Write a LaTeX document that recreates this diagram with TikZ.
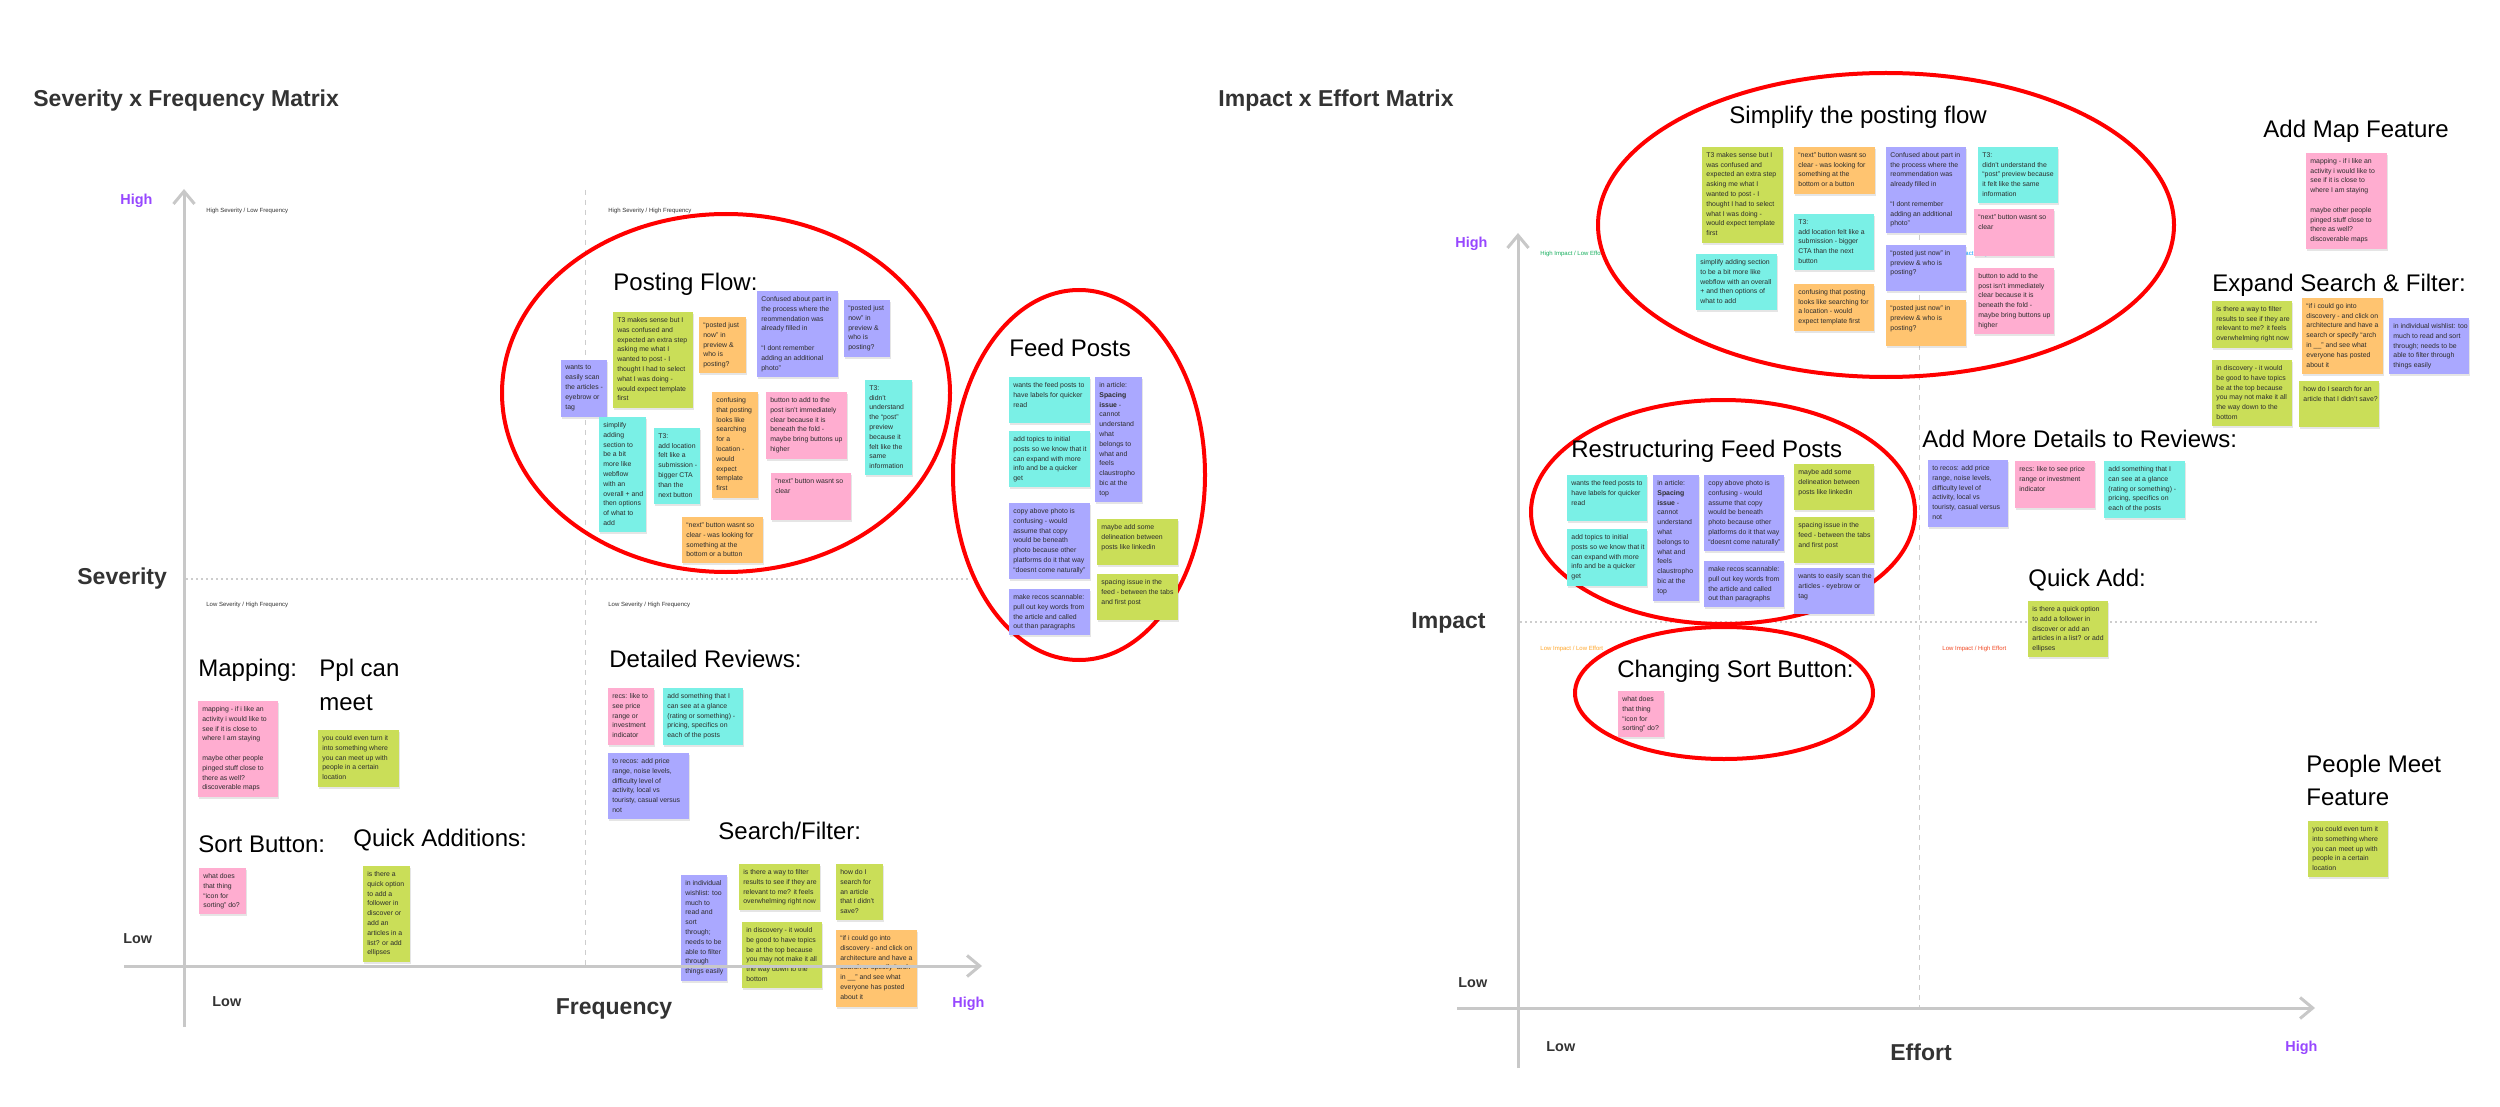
\documentclass[tikz,border=0pt]{standalone}
\usepackage{fontspec}
\setmainfont{Liberation Sans}
\usetikzlibrary{arrows.meta}
\definecolor{sgreen}{RGB}{202,222,88}
\definecolor{sorange}{RGB}{255,196,112}
\definecolor{spurple}{RGB}{170,168,255}
\definecolor{scyan}{RGB}{122,240,230}
\definecolor{spink}{RGB}{255,173,208}
\definecolor{notefg}{RGB}{45,45,45}
\definecolor{axgray}{RGB}{200,200,200}
\definecolor{divgray}{RGB}{205,205,205}
\definecolor{hipurple}{RGB}{151,71,255}
\definecolor{labgray}{RGB}{51,51,51}
\definecolor{qgreen}{RGB}{20,174,92}
\definecolor{qblue}{RGB}{13,153,255}
\definecolor{qorange}{RGB}{255,166,41}
\definecolor{qred}{RGB}{242,72,34}
\definecolor{ringred}{RGB}{255,0,0}
\tikzset{
 notetxt/.style={anchor=north west,inner sep=0pt,align=left,text=notefg,font=\fontsize{3.45}{4.9}\selectfont},
 noteshadow/.style={fill=black,opacity=0.10},
 heading/.style={anchor=base west,inner sep=0pt,text=black,font=\fontsize{12}{14}\selectfont},
 titlelab/.style={anchor=base west,inner sep=0pt,text=labgray,font=\bfseries\fontsize{11.5}{14}\selectfont},
 axlabel/.style={anchor=base west,inner sep=0pt,text=labgray,font=\bfseries\fontsize{11.5}{14}\selectfont},
 axlabelc/.style={axlabel,anchor=base},
 lowlab/.style={anchor=base west,inner sep=0pt,text=labgray,font=\bfseries\fontsize{7.2}{9}\selectfont},
 highlab/.style={lowlab,text=hipurple},
 quadlab/.style={anchor=base west,inner sep=0pt,font=\fontsize{3}{4}\selectfont},
 ring/.style={draw=ringred,line width=2pt},
 axisline/.style={draw=axgray,line width=1.5pt},
 axisarrow/.style={axisline,-{Straight Barb[length=6.3pt,width=10.5pt]}},
 hdiv/.style={draw=divgray,line width=0.7pt,dash pattern=on 1pt off 1.5pt},
 vdiv/.style={draw=divgray,line width=0.5pt,dash pattern=on 2.5pt off 2.5pt},
}
\newcommand\sticky[7]{%
 \fill[noteshadow] (#2+1,#3+2) rectangle (#4+1,#5+2);
 \fill[#6] (#2,#3) rectangle (#4,#5);
 \node[notetxt] (#1) at (#2+4,#3+5) {#7};}
\begin{document}
\begin{tikzpicture}[x=0.5pt,y=-0.5pt]
\fill[white] (0,0) rectangle (2500,1107);
\useasboundingbox (0,0) rectangle (2500,1107);

% ---------------- titles
\node[titlelab] (t1) at (33,107) {Severity x Frequency Matrix};
\node[titlelab] (t2) at (1218,107) {Impact x Effort Matrix};

% ---------------- dividers
\draw[vdiv] (585,190) -- (585,965);
\draw[hdiv] (186,579) -- (968,579);
\draw[vdiv] (1919,235) -- (1919,1007);
\draw[hdiv] (1520,622) -- (2320,622);

% quadrant labels
\node[quadlab,text=labgray] (q1) at (206,213) {High Severity / Low Frequency};
\node[quadlab,text=labgray] (q2) at (608,213) {High Severity / High Frequency};
\node[quadlab,text=labgray] (q3) at (206,606) {Low Severity / High Frequency};
\node[quadlab,text=labgray] (q4) at (608,606) {Low Severity / High Frequency};
\node[quadlab,text=qgreen] (q5) at (1540,256) {High Impact / Low Effort};
\node[quadlab,text=qblue] (q6) at (1941,256) {High Impact / High Effort};
\node[quadlab,text=qorange] (q7) at (1540,650) {Low Impact / Low Effort};
\node[quadlab,text=qred] (q8) at (1942,650) {Low Impact / High Effort};

% ---------------- rings
\draw[ring] (726,393) ellipse [x radius=224, y radius=179];
\draw[ring] (1079,475) ellipse [x radius=126, y radius=185];
\draw[ring] (1886,225) ellipse [x radius=288, y radius=152];
\draw[ring] (1723,512) ellipse [x radius=192, y radius=112];
\draw[ring] (1724,693) ellipse [x radius=149, y radius=66];

% ---------------- headings
\node[heading] (h1) at (613,291) {Posting Flow:};
\node[heading] (h2) at (1009,357) {Feed Posts};
\node[heading] (h3) at (198,676) {Mapping:};
\node[heading] (h4a) at (319,676) {Ppl can};
\node[heading] (h4b) at (319,710) {meet};
\node[heading] (h5) at (198,852) {Sort Button:};
\node[heading] (h6) at (353,846) {Quick Additions:};
\node[heading] (h7) at (609,667) {Detailed Reviews:};
\node[heading] (h8) at (718,839) {Search/Filter:};
\node[heading] (h9) at (1729,124) {Simplify the posting flow};
\node[heading] (h10) at (2263,138) {Add Map Feature};
\node[heading] (h11) at (2212,292) {Expand Search \& Filter:};
\node[heading] (h12) at (1571,457) {Restructuring Feed Posts};
\node[heading] (h13) at (1922,447) {Add More Details to Reviews:};
\node[heading] (h14) at (2028,586) {Quick Add:};
\node[heading] (h15) at (1617,677) {Changing Sort Button:};
\node[heading] (h16a) at (2306,772) {People Meet};
\node[heading] (h16b) at (2306,805) {Feature};

% ---------------- left: posting flow
\sticky{pfA}{561}{360}{607}{417}{spurple}{wants to\\easily scan\\the articles -\\eyebrow or\\tag}
\sticky{pfB}{613}{312}{693}{408}{sgreen}{T3 makes sense but I\\was confused and\\expected an extra step\\asking me what I\\wanted to post - I\\thought I had to select\\what I was doing -\\would expect template\\first}
\sticky{pfC}{699}{317}{746}{373}{sorange}{“posted just\\now” in\\preview \&\\who is\\posting?}
\sticky{pfD}{757}{291}{838}{377}{spurple}{Confused about part in\\the process where the\\reommendation was\\already filled in\\[4.9pt]“I dont remember\\adding an additional\\photo”}
\sticky{pfE}{844}{300}{890}{357}{spurple}{“posted just\\now” in\\preview \&\\who is\\posting?}
\sticky{pfF}{599}{417}{646}{532}{scyan}{simplify\\adding\\section to\\be a bit\\more like\\webflow\\with an\\overall + and\\then options\\of what to\\add}
\sticky{pfG}{654}{428}{700}{504}{scyan}{T3:\\add location\\felt like a\\submission -\\bigger CTA\\than the\\next button}
\sticky{pfH}{712}{392}{758}{498}{sorange}{confusing\\that posting\\looks like\\searching\\for a\\location -\\would\\expect\\template\\first}
\sticky{pfI}{766}{392}{847}{459}{spink}{button to add to the\\post isn't immediately\\clear because it is\\beneath the fold -\\maybe bring buttons up\\higher}
\sticky{pfJ}{865}{380}{912}{475}{scyan}{T3:\\didn't\\understand\\the “post”\\preview\\because it\\felt like the\\same\\information}
\sticky{pfK}{771}{473}{851}{520}{spink}{“next” button wasnt so\\clear}
\sticky{pfL}{682}{517}{763}{563}{sorange}{“next” button wasnt so\\clear - was looking for\\something at the\\bottom or a button}

% ---------------- left: feed posts
\sticky{fpA}{1009}{377}{1090}{423}{scyan}{wants the feed posts to\\have labels for quicker\\read}
\sticky{fpB}{1095}{377}{1142}{502}{spurple}{in article:\\\textbf{Spacing}\\\textbf{issue} -\\cannot\\understand\\what\\belongs to\\what and\\feels\\claustropho\\bic at the\\top}
\sticky{fpC}{1009}{431}{1090}{487}{scyan}{add topics to initial\\posts so we know that it\\can expand with more\\info and be a quicker\\get}
\sticky{fpD}{1009}{503}{1090}{579}{spurple}{copy above photo is\\confusing - would\\assume that copy\\would be beneath\\photo because other\\platforms do it that way\\“doesnt come naturally”}
\sticky{fpE}{1097}{519}{1178}{565}{sgreen}{maybe add some\\delineation between\\posts like linkedin}
\sticky{fpF}{1097}{574}{1178}{620}{sgreen}{spacing issue in the\\feed - between the tabs\\and first post}
\sticky{fpG}{1009}{589}{1090}{635}{spurple}{make recos scannable:\\pull out key words from\\the article and called\\out than paragraphs}

% ---------------- left: low severity / low frequency
\sticky{mpA}{198}{701}{278}{797}{spink}{mapping - if i like an\\activity i would like to\\see if it is close to\\where I am staying\\[4.9pt]maybe other people\\pinged stuff close to\\there as well?\\discoverable maps}
\sticky{mpB}{318}{730}{399}{787}{sgreen}{you could even turn it\\into something where\\you can meet up with\\people in a certain\\location}
\sticky{sbA}{199}{868}{246}{914}{spink}{what does\\that thing\\“icon for\\sorting” do?}
\sticky{qaA}{363}{866}{410}{962}{sgreen}{is there a\\quick option\\to add a\\follower in\\discover or\\add an\\articles in a\\list? or add\\ellipses}

% ---------------- left: low severity / high frequency
\sticky{drA}{608}{688}{654}{745}{spink}{recs: like to\\see price\\range or\\investment\\indicator}
\sticky{drB}{663}{688}{743}{745}{scyan}{add something that I\\can see at a glance\\(rating or something) -\\pricing, specifics on\\each of the posts}
\sticky{drC}{608}{753}{689}{819}{spurple}{to recos: add price\\range, noise levels,\\difficulty level of\\activity, local vs\\touristy, casual versus\\not}
\sticky{sfA}{681}{875}{727}{981}{spurple}{in individual\\wishlist: too\\much to\\read and\\sort\\through;\\needs to be\\able to filter\\through\\things easily}
\sticky{sfB}{739}{864}{820}{910}{sgreen}{is there a way to filter\\results to see if they are\\relevant to me? it feels\\overwhelming right now}
\sticky{sfC}{836}{864}{883}{920}{sgreen}{how do I\\search for\\an article\\that I didn't\\save?}
\sticky{sfD}{742}{922}{822}{988}{sgreen}{in discovery - it would\\be good to have topics\\be at the top because\\you may not make it all\\the way down to the\\bottom}
\sticky{sfE}{836}{930}{917}{1007}{sorange}{“if i could go into\\discovery - and click on\\architecture and have a\\search or specify “arch\\in \_\_” and see what\\everyone has posted\\about it}

% ---------------- right: simplify posting flow
\sticky{spA}{1702}{147}{1783}{243}{sgreen}{T3 makes sense but I\\was confused and\\expected an extra step\\asking me what I\\wanted to post - I\\thought I had to select\\what I was doing -\\would expect template\\first}
\sticky{spB}{1794}{147}{1875}{194}{sorange}{“next” button wasnt so\\clear - was looking for\\something at the\\bottom or a button}
\sticky{spC}{1886}{147}{1966}{233}{spurple}{Confused about part in\\the process where the\\reommendation was\\already filled in\\[4.9pt]“I dont remember\\adding an additional\\photo”}
\sticky{spD}{1978}{147}{2058}{203}{scyan}{T3:\\didn't understand the\\“post” preview because\\it felt like the same\\information}
\sticky{spE}{1696}{254}{1777}{310}{scyan}{simplify adding section\\to be a bit more like\\webflow with an overall\\+ and then options of\\what to add}
\sticky{spF}{1794}{214}{1874}{270}{scyan}{T3:\\add location felt like a\\submission - bigger\\CTA than the next\\button}
\sticky{spG}{1974}{209}{2054}{256}{spink}{“next” button wasnt so\\clear}
\sticky{spH}{1886}{245}{1966}{291}{spurple}{“posted just now” in\\preview \& who is\\posting?}
\sticky{spI}{1794}{284}{1874}{331}{sorange}{confusing that posting\\looks like searching for\\a location - would\\expect template first}
\sticky{spJ}{1974}{268}{2054}{334}{spink}{button to add to the\\post isn't immediately\\clear because it is\\beneath the fold -\\maybe bring buttons up\\higher}
\sticky{spK}{1886}{300}{1966}{346}{sorange}{“posted just now” in\\preview \& who is\\posting?}

% ---------------- right: map, search
\sticky{amA}{2306}{153}{2387}{249}{spink}{mapping - if i like an\\activity i would like to\\see if it is close to\\where I am staying\\[4.9pt]maybe other people\\pinged stuff close to\\there as well?\\discoverable maps}
\sticky{esA}{2212}{301}{2292}{348}{sgreen}{is there a way to filter\\results to see if they are\\relevant to me? it feels\\overwhelming right now}
\sticky{esB}{2302}{298}{2383}{374}{sorange}{“if i could go into\\discovery - and click on\\architecture and have a\\search or specify “arch\\in \_\_” and see what\\everyone has posted\\about it}
\sticky{esC}{2389}{318}{2469}{374}{spurple}{in individual wishlist: too\\much to read and sort\\through; needs to be\\able to filter through\\things easily}
\sticky{esD}{2212}{360}{2292}{426}{sgreen}{in discovery - it would\\be good to have topics\\be at the top because\\you may not make it all\\the way down to the\\bottom}
\sticky{esE}{2299}{381}{2379}{427}{sgreen}{how do I search for an\\article that I didn't save?}

% ---------------- right: restructuring feed posts
\sticky{rfA}{1567}{475}{1647}{521}{scyan}{wants the feed posts to\\have labels for quicker\\read}
\sticky{rfB}{1567}{529}{1647}{586}{scyan}{add topics to initial\\posts so we know that it\\can expand with more\\info and be a quicker\\get}
\sticky{rfC}{1653}{475}{1699}{601}{spurple}{in article:\\\textbf{Spacing}\\\textbf{issue} -\\cannot\\understand\\what\\belongs to\\what and\\feels\\claustropho\\bic at the\\top}
\sticky{rfD}{1704}{475}{1784}{551}{spurple}{copy above photo is\\confusing - would\\assume that copy\\would be beneath\\photo because other\\platforms do it that way\\“doesnt come naturally”}
\sticky{rfE}{1704}{561}{1784}{607}{spurple}{make recos scannable:\\pull out key words from\\the article and called\\out than paragraphs}
\sticky{rfF}{1794}{464}{1874}{510}{sgreen}{maybe add some\\delineation between\\posts like linkedin}
\sticky{rfG}{1794}{517}{1874}{563}{sgreen}{spacing issue in the\\feed - between the tabs\\and first post}
\sticky{rfH}{1794}{568}{1874}{614}{spurple}{wants to easily scan the\\articles - eyebrow or\\tag}

% ---------------- right: details, quick add, sort, people
\sticky{mdA}{1928}{460}{2008}{527}{spurple}{to recos: add price\\range, noise levels,\\difficulty level of\\activity, local vs\\touristy, casual versus\\not}
\sticky{mdB}{2015}{461}{2095}{508}{spink}{recs: like to see price\\range or investment\\indicator}
\sticky{mdC}{2104}{461}{2185}{518}{scyan}{add something that I\\can see at a glance\\(rating or something) -\\pricing, specifics on\\each of the posts}
\sticky{qdA}{2028}{601}{2108}{657}{sgreen}{is there a quick option\\to add a follower in\\discover or add an\\articles in a list? or add\\ellipses}
\sticky{csA}{1618}{691}{1664}{737}{spink}{what does\\that thing\\“icon for\\sorting” do?}
\sticky{pmA}{2308}{821}{2388}{877}{sgreen}{you could even turn it\\into something where\\you can meet up with\\people in a certain\\location}

% ---------------- axes
\coordinate (lvb) at (184,1027); \coordinate (lvt) at (184,189);
\coordinate (lhl) at (124,966);  \coordinate (lhr) at (982,966);
\coordinate (rvb) at (1518,1068); \coordinate (rvt) at (1518,233);
\coordinate (rhl) at (1457,1008); \coordinate (rhr) at (2315,1008);
\draw[axisarrow] (lvb) -- (lvt);
\draw[axisarrow] (lhl) -- (lhr);
\draw[axisarrow] (rvb) -- (rvt);
\draw[axisarrow] (rhl) -- (rhr);

% axis labels
\node[highlab] (lh1) at (120,205) {High};
\node[axlabel] (lsev) at (77,584) {Severity};
\node[lowlab] (ll1) at (123,943) {Low};
\node[lowlab] (ll2) at (212,1006) {Low};
\node[axlabelc] (lfreq) at (614,1014) {Frequency};
\node[highlab] (lh2) at (952,1007) {High};

\node[highlab] (rh1) at (1455,248) {High};
\node[axlabel] (rimp) at (1411,628) {Impact};
\node[lowlab] (rl1) at (1458,987) {Low};
\node[lowlab] (rl2) at (1546,1051) {Low};
\node[axlabelc] (reff) at (1921,1060) {Effort};
\node[highlab] (rh2) at (2285,1051) {High};
\end{tikzpicture}
\end{document}
